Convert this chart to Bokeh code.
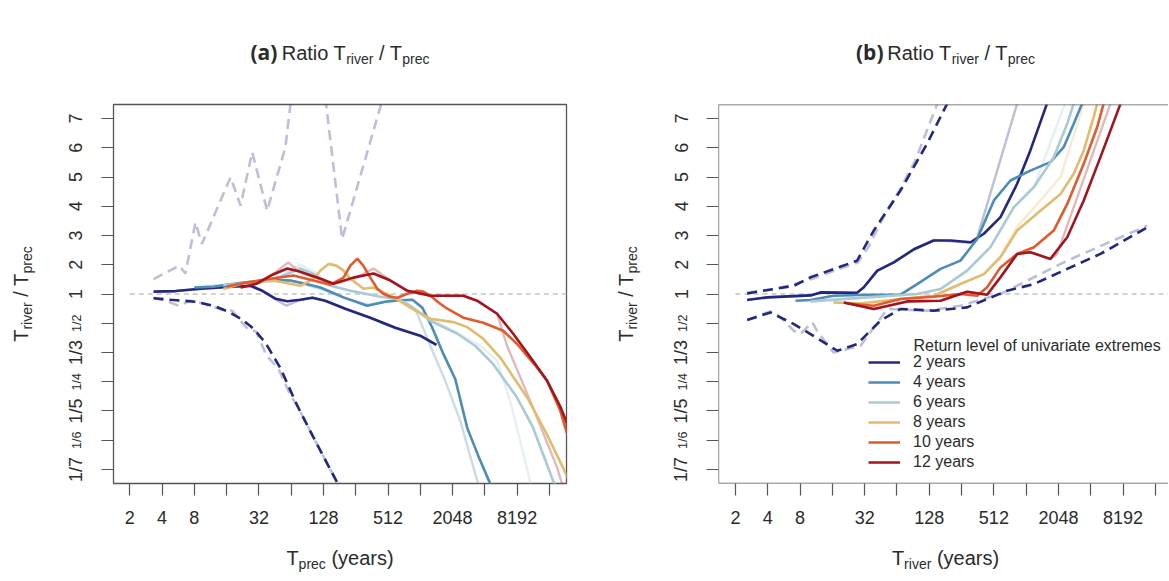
import numpy as np
from bokeh.plotting import figure
from bokeh.models import (FixedTicker, Label, Legend, LegendItem, Span, Range1d,
                          ColumnDataSource)
from bokeh.layouts import row, column
from bokeh.embed import file_html
from bokeh.resources import INLINE

# ---------------- ticks ----------------
x_ticks = [2, 4, 8, 16, 32, 64, 128, 256, 512, 1024, 2048, 4096, 8192, 16384]
x_tick_labels = ["2", "4", "8", "", "32", "", "128", "", "512", "", "2048", "", "8192", ""]
y_tick_ratios = [1/7, 1/6, 1/5, 1/4, 1/3, 1/2, 1, 2, 3, 4, 5, 6, 7]
y_tick_labels = ["1/7", "1/6", "1/5", "1/4", "1/3", "1/2", "1", "2", "3", "4", "5", "6", "7"]
small_y_labels = ["1/2", "1/4", "1/6"]

series_names = ["2 years", "4 years", "6 years", "8 years", "10 years", "12 years"]
colors = ["#23287f", "#4b8db5", "#abcad6", "#e3bb6e", "#e15a2e", "#a2151e"]
ref_ratio = 1.0
ref_T = [2, 65536]

# ---------------- panel (a): x = T_prec ----------------
a_T_2 = [3.33, 5.33, 9.1, 17.4, 26.7, 34.5, 45.6, 58.9, 77.8, 101, 133, 205, 350, 600, 1024, 1450]
a_R_2 = [1.08, 1.10, 1.18, 1.25, 1.28, 1.11, 0.861, 0.802, 0.837, 0.887, 0.814, 0.665, 0.552, 0.464, 0.412, 0.365]
a_T_4 = [8.0, 12.0, 24.4, 41, 63, 87, 120, 197, 327, 485, 670, 867, 1070, 1325, 1680, 2170, 2810, 3560, 4500, 5200]
a_R_4 = [1.22, 1.25, 1.40, 1.49, 1.46, 1.35, 1.22, 0.896, 0.714, 0.791, 0.825, 0.837, 0.681, 0.464, 0.328, 0.256, 0.179, 0.153, 0.135, 0.125]
a_T_6 = [14.9, 21.6, 33, 51, 78, 108, 149, 228, 434, 626, 827, 1270, 2270, 3350, 4880, 8130, 11500, 17700, 23000]
a_R_6 = [1.3, 1.35, 1.39, 1.59, 1.87, 1.66, 1.28, 1.11, 0.916, 0.862, 0.714, 0.522, 0.424, 0.36, 0.295, 0.221, 0.18, 0.1355, 0.122]
a_T_8 = [14.9, 24.4, 43.7, 78, 103, 120, 143, 169, 197, 229, 302, 375, 540, 830, 1270, 2080, 2810, 3960, 5700, 10200, 15600, 22000, 28500]
a_R_8 = [1.17, 1.39, 1.46, 1.28, 1.52, 1.80, 2.03, 1.97, 1.80, 1.52, 1.18, 1.22, 0.945, 0.681, 0.542, 0.51, 0.469, 0.395, 0.315, 0.22, 0.172, 0.144, 0.127]
a_T_10 = [15.9, 24.4, 41, 67, 103, 148, 197, 228, 265, 301, 350, 407, 462, 538, 626, 776, 955, 1090, 1270, 1570, 1830, 2580, 3960, 6080, 8190, 12600, 15600, 20600, 24000, 28500]
a_R_10 = [1.25, 1.39, 1.52, 1.63, 1.46, 1.32, 1.56, 1.97, 2.21, 1.97, 1.56, 1.18, 1.01, 0.916, 0.887, 1.01, 1.11, 1.08, 0.945, 0.751, 0.665, 0.552, 0.504, 0.443, 0.369, 0.284, 0.252, 0.201, 0.173, 0.154]
a_T_12 = [21.6, 30.3, 42.8, 58.9, 78, 120, 159, 243, 375, 540, 778, 1270, 2580, 3470, 5330, 7530, 10900, 15600, 20600, 24000, 28500]
a_R_12 = [1.22, 1.35, 1.66, 1.87, 1.76, 1.52, 1.35, 1.56, 1.70, 1.46, 1.11, 0.945, 0.945, 0.814, 0.597, 0.424, 0.316, 0.252, 0.207, 0.184, 0.161]

a_T_2_raw = [3.33, 5.33, 9.1, 17.4, 26.7, 34.5, 45.6, 57.8, 77.8, 101, 133, 205, 350, 600, 1024, 1450]
a_R_2_raw = [1.09, 1.10, 1.17, 1.24, 1.27, 1.10, 0.85, 0.714, 0.83, 0.89, 0.81, 0.66, 0.55, 0.46, 0.41, 0.365]
a_T_4_raw = [8.0, 24.4, 63, 120, 197, 333, 670, 942, 1270, 1750, 2420, 3490, 3720]
a_R_4_raw = [1.22, 1.39, 1.46, 1.18, 0.887, 0.732, 0.861, 0.623, 0.361, 0.252, 0.187, 0.135, 0.129]
a_T_6_raw = [14.9, 21.6, 33, 51, 78, 108, 149, 228, 434, 670, 1270, 2270, 3720, 5330, 7040, 8760, 10800, 11300]
a_R_6_raw = [1.3, 1.4, 1.42, 1.59, 2.0, 1.73, 1.32, 1.11, 0.916, 0.837, 0.542, 0.429, 0.361, 0.305, 0.215, 0.166, 0.135, 0.13]
a_T_12_raw = [21.6, 30.3, 42.8, 60, 78, 120, 159, 243, 375, 540, 778, 1270, 2580, 3470, 5330, 6600, 11500, 19400, 21600, 23000]
a_R_12_raw = [1.22, 1.35, 1.66, 2.08, 1.73, 1.49, 1.35, 1.52, 1.87, 1.46, 1.11, 0.945, 0.945, 0.814, 0.597, 0.361, 0.205, 0.144, 0.133, 0.128]

a_T_lo = [3.33, 4.79, 8.19, 12.1, 16.6, 22.5, 28.5, 36.8, 50.8, 73.2, 107.4, 176, 200]
a_R_lo = [0.874, 0.837, 0.791, 0.713, 0.623, 0.532, 0.457, 0.375, 0.283, 0.207, 0.166, 0.133, 0.129]
a_T_lo_raw = [3.33, 4.3, 5.7, 7.37, 9.1, 11.8, 14.6, 18.1, 21.6, 25.5, 30.3, 37.6, 48.6, 62.9, 73.2, 107.4, 176, 200]
a_R_lo_raw = [0.887, 0.813, 0.714, 0.813, 0.77, 0.697, 0.65, 0.636, 0.522, 0.45, 0.437, 0.322, 0.282, 0.224, 0.207, 0.166, 0.133, 0.129]
a_T_hi_raw = [3.33, 5.8, 6.6, 8.2, 9.4, 17.4, 21.6, 27.7, 38.2, 56.5, 92.6, 191, 434, 670]
a_R_hi_raw = [1.51, 1.97, 1.70, 3.45, 2.71, 4.99, 4.02, 5.85, 3.85, 6.02, 12.6, 2.88, 7.39, 9.74]

# ---------------- panel (b): x = T_river ----------------
b_T_2 = [2.57, 3.95, 10, 12.4, 27.2, 31.4, 41.9, 59.9, 91.8, 141, 202, 311, 413, 590, 843, 1120, 1600, 1910]
b_R_2 = [0.83, 0.896, 0.954, 1.055, 1.045, 1.23, 1.80, 2.08, 2.53, 2.83, 2.83, 2.77, 3.06, 3.63, 4.77, 5.91, 7.51, 8.3]
b_T_4 = [7.25, 10, 16.4, 33.8, 69, 98.7, 163, 250, 358, 512, 731, 1120, 1720, 2290, 2840, 3400, 3810]
b_R_4 = [0.813, 0.83, 0.945, 0.977, 0.977, 1.34, 1.86, 2.14, 2.88, 4.2, 4.88, 5.22, 5.51, 6.02, 6.82, 7.51, 7.97]
b_T_6 = [10, 33.8, 98.7, 163, 288, 475, 787, 1210, 1850, 2470, 2840, 3130]
b_R_6 = [0.798, 0.896, 1.0, 1.17, 1.80, 2.6, 3.97, 4.66, 5.68, 6.82, 7.51, 7.97]
b_T_8 = [16.4, 29.2, 69, 141, 250, 413, 590, 843, 1390, 2140, 2840, 3520, 4360, 4700, 5040]
b_R_8 = [0.776, 0.756, 0.854, 0.945, 1.34, 1.68, 2.26, 3.17, 3.85, 4.42, 5.11, 5.91, 7.05, 7.51, 7.96]
b_T_10 = [22, 38.9, 69, 141, 250, 358, 443, 590, 843, 1210, 1850, 2470, 3520, 4700, 5400, 5860]
b_R_10 = [0.756, 0.714, 0.854, 0.916, 1.0, 0.945, 1.23, 1.91, 2.37, 2.6, 3.17, 4.08, 5.45, 6.71, 7.51, 7.97]
b_T_12 = [20.4, 38.9, 79.9, 163, 288, 443, 590, 843, 1120, 1720, 2470, 3520, 5040, 7760, 8600]
b_R_12 = [0.776, 0.66, 0.798, 0.813, 1.08, 0.977, 1.57, 2.37, 2.43, 2.2, 2.94, 4.2, 5.68, 7.51, 7.97]

b_T_2_raw = [2.57, 3.95, 10, 12.4, 27.2, 31.4, 41.9, 59.9, 91.8, 141, 202, 311, 358, 843, 1010]
b_R_2_raw = [0.84, 0.9, 0.95, 1.05, 1.04, 1.22, 1.78, 2.1, 2.5, 2.85, 2.8, 2.75, 2.93, 7.51, 8.48]
b_T_6_raw = [10, 33.8, 98.7, 163, 288, 475, 787, 1210, 2350, 2600]
b_R_6_raw = [0.8, 0.9, 1.0, 1.17, 1.78, 2.6, 3.97, 4.66, 7.51, 8.1]
b_T_8_raw = [16.4, 29.2, 69, 141, 250, 413, 590, 843, 1390, 2140, 3520, 3900]
b_R_8_raw = [0.776, 0.756, 0.854, 0.945, 1.34, 1.68, 2.3, 3.3, 4.2, 5.0, 7.51, 8.2]
b_T_12_raw = [20.4, 38.9, 79.9, 163, 288, 443, 590, 843, 1120, 1720, 1990, 6250, 6980]
b_R_12_raw = [0.776, 0.66, 0.798, 0.813, 1.08, 0.977, 1.57, 2.37, 2.43, 2.2, 2.37, 7.51, 8.13]

b_T_hi = [2.57, 6.99, 10.0, 27.2, 38.9, 69, 122, 188, 250]
b_R_hi = [1.02, 1.28, 1.57, 2.14, 3.17, 4.54, 6.14, 7.51, 8.65]
b_T_hi_raw = [2.57, 4.24, 6.95, 10.4, 18.9, 27.5, 34.8, 45, 69, 95, 152, 181]
b_R_hi_raw = [1.05, 1.15, 1.32, 1.52, 1.87, 2.07, 2.62, 3.45, 4.61, 5.57, 7.51, 8.1]
b_T_lo = [2.57, 4.24, 6.99, 10, 17.8, 27.2, 45, 69, 141, 288, 443, 681, 1210, 2470, 5040, 13800]
b_R_lo = [0.529, 0.613, 0.493, 0.422, 0.34, 0.369, 0.524, 0.662, 0.637, 0.686, 0.854, 1.11, 1.34, 1.86, 2.37, 3.28]
b_T_lo_raw = [2.57, 4.24, 4.89, 6.99, 8.05, 10.4, 11.5, 16.4, 29.2, 52, 122, 250, 590, 787, 2470, 13800]
b_R_lo_raw = [0.531, 0.627, 0.593, 0.443, 0.422, 0.508, 0.443, 0.333, 0.361, 0.662, 0.637, 0.714, 1.0, 1.23, 2.14, 3.34]


def tr(r):
    """ratio axis: r-1 above 1, 1-1/r below 1"""
    r = np.asarray(r, dtype=float)
    return np.where(r >= 1, r - 1, 1 - 1 / r)


y_tick_pos = [int(round(v)) for v in tr(y_tick_ratios)]

FONT = "Liberation Sans"
TXT = "#2b2b2b"
FRAME = "#555555"
MID = 0.35          # distance baseline -> text middle, in em

# ---------------- geometry (page px) ----------------
TOP_H = 94          # title strip
MID_BT, FRAME_H, MID_BB = 10, 379, 52
MID_H = MID_BT + FRAME_H + MID_BB
BOT_H = 45
Y_LO, Y_HI = -6.48, 6.48
KY = (Y_HI - Y_LO) / FRAME_H          # data units per px
SA_W, PA_W, SB_W, PB_W = 95, 518, 87, 468
TOTAL_W = SA_W + PA_W + SB_W + PB_W

# Arial / Liberation Sans advance widths (em)
W = {' ': .278, '(': .333, ')': .333, '/': .278, 'a': .556, 'b': .556, 'c': .5, 'e': .556,
     'i': .222, 'o': .556, 'p': .556, 'r': .333, 's': .5, 't': .278, 'v': .5, 'y': .5,
     'R': .722, 'T': .611}


def twidth(s, size):
    return sum(W.get(ch, .556) for ch in s) * size


def place(segs, cx, base, rotated=False, ky=1.0):
    """segs: (text, size, font, style, dy); base = baseline position (px)."""
    total = sum(twidth(s[0], s[1]) for s in segs)
    pos = -total / 2
    out = []
    for text, size, font, style, dy in segs:
        lead = len(text) - len(text.lstrip(' '))
        off = pos + twidth(' ' * lead, size)
        mid = base + dy - MID * size
        if rotated:
            out.append((mid, cx + off * ky, text.strip(), f"{size}px", font, style, np.pi / 2))
        else:
            out.append((cx + off, mid, text.strip(), f"{size}px", font, style, 0.0))
        pos += twidth(text, size)
    return out


def draw_texts(p, items, align="left"):
    cols = list(zip(*items))
    src = ColumnDataSource(dict(x=list(cols[0]), y=list(cols[1]), text=list(cols[2]),
                                size=list(cols[3]), font=list(cols[4]), style=list(cols[5]),
                                angle=list(cols[6])))
    p.text(x="x", y="y", text="text", angle="angle", text_font="font",
           text_font_size="size", text_font_style="style", text_color=TXT,
           text_align=align, text_baseline="middle", source=src)


def strip(width, height, x_range, y_range, bt=0, bb=0):
    s = figure(width=width, height=height, x_range=x_range, y_range=y_range,
               x_axis_location=None, y_axis_location=None, toolbar_location=None,
               output_backend="svg", min_border_left=0, min_border_right=0,
               min_border_top=bt, min_border_bottom=bb)
    s.outline_line_color = None
    s.xgrid.visible = False
    s.ygrid.visible = False
    s.background_fill_color = "white"
    s.border_fill_color = "white"
    return s


def make_fig(width, lo2, hi2, right_border, y_range):
    p = figure(width=width, height=MID_H, x_axis_type="log",
               x_range=(2 ** lo2, 2 ** hi2), y_range=y_range,
               output_backend="svg", toolbar_location=None,
               min_border_left=18, min_border_right=right_border,
               min_border_top=MID_BT, min_border_bottom=MID_BB)
    p.xgrid.visible = False
    p.ygrid.visible = False
    p.background_fill_color = "white"
    p.border_fill_color = "white"
    xa, ya = p.xaxis[0], p.yaxis[0]
    xa.ticker = FixedTicker(ticks=x_ticks)
    xa.major_label_overrides = {t: l for t, l in zip(x_ticks, x_tick_labels)}
    ya.ticker = FixedTicker(ticks=y_tick_pos)
    ya.major_label_overrides = {t: "" for t in y_tick_pos}
    ya.major_label_text_font_size = "1px"
    ya.major_label_standoff = 0
    for ax in (xa, ya):
        ax.axis_line_color = None
        ax.major_tick_out = 12
        ax.major_tick_in = 0
        ax.minor_tick_line_color = None
        ax.major_tick_line_color = FRAME
        ax.major_tick_line_width = 1.2
        ax.major_label_text_font = FONT
        ax.major_label_text_color = TXT
    xa.major_label_text_font_size = "18px"
    xa.major_label_standoff = 15
    return p


def draw_panel(p, smooth, raws, lo, lo_raw, hi, hi_raw):
    p.line(ref_T, tr([ref_ratio, ref_ratio]), line_color="#c4c4c8", line_width=1.3,
           line_dash="5 4")
    for (T, R, c) in raws:
        p.line(T, tr(R), line_color=c, line_alpha=0.3, line_width=2.4)
    for (T, R) in lo_raw + hi_raw:
        p.line(T, tr(R), line_color=colors[0], line_alpha=0.3, line_width=2.6,
               line_dash="10 6")
    for (T, R) in lo + hi:
        p.line(T, tr(R), line_color=colors[0], line_width=2.6, line_dash="10 6")
    rs = []
    for (T, R), c in zip(smooth, colors):
        rs.append(p.line(T, tr(R), line_color=c, line_width=2.6))
    return rs


yr = Range1d(Y_LO, Y_HI)

# ---------------- panel (a) ----------------
pa = make_fig(PA_W, 0.495, 14.53, 47, yr)
pa.outline_line_color = FRAME
pa.outline_line_width = 1.3
draw_panel(pa,
           [(a_T_2, a_R_2), (a_T_4, a_R_4), (a_T_6, a_R_6), (a_T_8, a_R_8),
            (a_T_10, a_R_10), (a_T_12, a_R_12)],
           [(a_T_2_raw, a_R_2_raw, colors[0]), (a_T_4_raw, a_R_4_raw, colors[1]),
            (a_T_6_raw, a_R_6_raw, colors[2]), (a_T_12_raw, a_R_12_raw, colors[5])],
           [(a_T_lo, a_R_lo)], [(a_T_lo_raw, a_R_lo_raw)], [], [(a_T_hi_raw, a_R_hi_raw)])

# ---------------- panel (b) ----------------
pb = make_fig(PB_W, 0.474, 14.406, 0, yr)
pb.outline_line_color = None
for loc in (Y_LO, Y_HI):
    pb.add_layout(Span(location=loc, dimension="width", line_color=FRAME, line_width=1.3))
pb.add_layout(Span(location=2 ** 0.474, dimension="height", line_color=FRAME, line_width=1.3))
rs = draw_panel(pb,
                [(b_T_2, b_R_2), (b_T_4, b_R_4), (b_T_6, b_R_6), (b_T_8, b_R_8),
                 (b_T_10, b_R_10), (b_T_12, b_R_12)],
                [(b_T_2_raw, b_R_2_raw, colors[0]), (b_T_6_raw, b_R_6_raw, colors[2]),
                 (b_T_8_raw, b_R_8_raw, colors[3]), (b_T_12_raw, b_R_12_raw, colors[5])],
                [(b_T_lo, b_R_lo)], [(b_T_lo_raw, b_R_lo_raw)],
                [(b_T_hi, b_R_hi)], [(b_T_hi_raw, b_R_hi_raw)])

legend = Legend(items=[LegendItem(label=n, renderers=[r]) for n, r in zip(series_names, rs)],
                location=(150, 11), orientation="vertical", glyph_width=32, glyph_height=20,
                label_height=20, spacing=0, padding=0, margin=0, label_standoff=13,
                border_line_color=None, background_fill_alpha=0,
                label_text_font=FONT, label_text_font_size="16px", label_text_color=TXT)
pb.add_layout(legend)
pb.add_layout(Label(x=195, y=483 - 345, x_units="screen", y_units="screen",
                    text="Return level of univariate extremes", text_font=FONT,
                    text_font_size="16px", text_color=TXT, text_align="left",
                    text_baseline="middle"))

# ---------------- side strips (y title + y tick labels) ----------------
sa = strip(SA_W, MID_H, Range1d(0, SA_W), yr, MID_BT, MID_BB)
sb = strip(SB_W, MID_H, Range1d(0, SB_W), yr, MID_BT, MID_BB)
for s, lab_base, title_base in ((sa, 81.3, 27), (sb, 73.8, 19.5)):
    ytitle = [("T", 20, FONT, "normal", 0), ("river", 14, FONT, "normal", 4),
              (" / T", 20, FONT, "normal", 0), ("prec", 14, FONT, "normal", 4)]
    draw_texts(s, place(ytitle, 0.0, title_base, rotated=True, ky=KY))
    ticks = []
    for yp, lab in zip(y_tick_pos, y_tick_labels):
        size = 12.5 if lab in small_y_labels else 18
        ticks.append((lab_base - MID * size, yp, lab, f"{size}px", FONT, "normal", np.pi / 2))
    draw_texts(s, ticks, align="center")

# ---------------- title strip / x-title strip ----------------
top = strip(TOTAL_W, TOP_H, Range1d(0, TOTAL_W), Range1d(TOP_H, 0))
bot = strip(TOTAL_W, BOT_H, Range1d(0, TOTAL_W),
            Range1d(TOP_H + MID_H + BOT_H, TOP_H + MID_H))
titles, xtitles = [], []
for cx, tag, xlab in ((339.5, "(a)", "prec"), (945.0, "(b)", "river")):
    titles += place([(tag, 21, "Open Sans", "bold", 0),
                     (" Ratio T", 20, FONT, "normal", 0),
                     ("river", 14, FONT, "normal", 4),
                     (" / T", 20, FONT, "normal", 0),
                     ("prec", 14, FONT, "normal", 4)], cx, 59)
    xtitles += place([("T", 20, FONT, "normal", 0),
                      (xlab, 14, FONT, "normal", 4),
                      (" (years)", 20, FONT, "normal", 0)], cx, 564)
draw_texts(top, titles)
draw_texts(bot, xtitles)

layout = column(top, row(sa, pa, sb, pb), bot)
open("out.html", "w").write(file_html(layout, INLINE))
